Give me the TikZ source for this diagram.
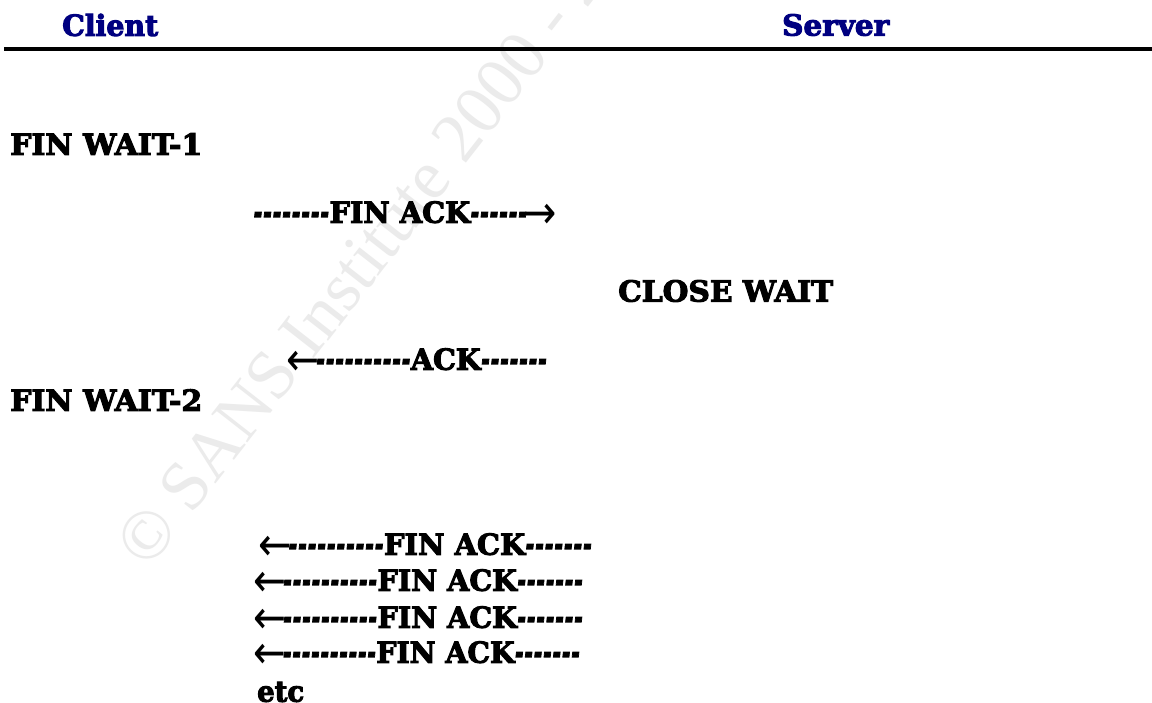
\documentclass[tikz,border=0pt]{standalone}
\usepackage{fontspec}
\usepackage{graphicx}
\newfontfamily\cb[Ligatures=TeXOff,BoldFeatures={FakeBold=3.5},BoldItalicFeatures={FakeBold=3.5}]{DejaVu Serif}
\newfontfamily\arr{DejaVu Sans}
\newfontfamily\wm{Liberation Serif}
\definecolor{navyblue}{RGB}{0,0,128}
\definecolor{wmgray}{RGB}{235,235,235}
\newcommand\fitw[2]{\resizebox{#1}{\height}{#2}}
\newcommand\ra{\makebox[26pt]{\raisebox{-6pt}{\scalebox{1}[1.15]{\arr\mdseries\upshape\fontsize{40}{40}\selectfont →}}}}
\newcommand\la{\makebox[26pt]{\raisebox{-6pt}{\scalebox{1}[1.15]{\arr\mdseries\upshape\fontsize{40}{40}\selectfont ←}}}}
\newcommand\dd[1]{\foreach \i in {1,...,#1}{\makebox[9.6pt]{\raisebox{-1.5pt}{\scalebox{0.72}[1.25]{\textit{-}}}}}}
\tikzset{
  lbl/.style={anchor=west, inner sep=0pt, font=\cb\bfseries\fontsize{29}{33}\selectfont},
  head/.style={lbl, text=navyblue},
  wmark/.style={anchor=west, inner sep=0pt, rotate=52, text=wmgray, font=\wm\fontsize{70}{80}\selectfont}
}
\begin{document}
\begin{tikzpicture}[x=1pt,y=1pt]
\useasboundingbox (0,0) rectangle (1152,702);
\fill[white] (0,0) rectangle (1152,702);
\begin{scope}
\clip (0,0) rectangle (1152,702);
\node[wmark] (wm) at (130,145) {© SANS Institute 2000 - 2005};
\end{scope}
\node[head] (client) at (62,677) {\fitw{96pt}{Client}};
\node[head] (server) at (782,677) {\fitw{107pt}{Server}};
\coordinate (ruleL) at (4,653);
\coordinate (ruleR) at (1152,653);
\draw[line width=4.5pt] (ruleL) -- (ruleR);
\node[lbl] (fw1) at (10,558) {\fitw{192pt}{FIN WAIT-1}};
\node[lbl] (finack1) at (253,487) {\fitw{300pt}{\dd{8}FIN ACK\dd{6}\ra}};
\node[lbl] (closewait) at (618,411) {\fitw{215pt}{CLOSE WAIT}};
\node[lbl] (ack) at (290,340) {\fitw{257pt}{\la\dd{10}ACK\dd{7}}};
\node[lbl] (fw2) at (10,302) {\fitw{192pt}{FIN WAIT-2}};
\node[lbl] (r1) at (262,155) {\fitw{330pt}{\la\dd{10}FIN ACK\dd{7}}};
\node[lbl] (r2) at (257,119) {\fitw{326pt}{\la\dd{10}FIN ACK\dd{7}}};
\node[lbl] (r3) at (257,82) {\fitw{326pt}{\la\dd{10}FIN ACK\dd{7}}};
\node[lbl] (r4) at (257,47) {\fitw{323pt}{\la\dd{10}FIN ACK\dd{7}}};
\node[lbl] (etc) at (257,10) {\fitw{47pt}{etc}};
\end{tikzpicture}
\end{document}
